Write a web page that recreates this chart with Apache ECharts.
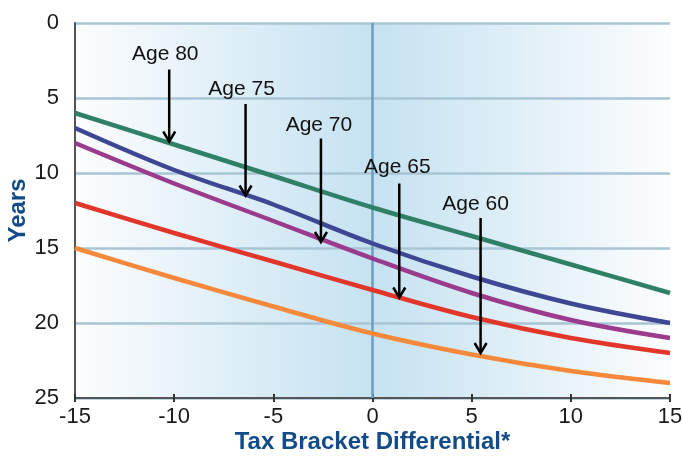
<!DOCTYPE html>
<html>
<head>
<meta charset="utf-8">
<script src="https://cdn.jsdelivr.net/npm/echarts@6/dist/echarts.min.js"></script>
<style>
  html, body { margin: 0; padding: 0; background: #ffffff; }
  #chart { width: 682px; height: 461px; }
</style>
</head>
<body>
<div id="chart"></div>
<script>
// Tax bracket differential (x) vs. years (y, inverted)
const xValues = [-15, -10, -5, 0, 5, 10, 15];
const age80 = [6.0, 8.1, 10.2, 12.3, 14.2, 16.1, 18.0];
const age75 = [7.0, 9.8, 12.1, 14.7, 16.9, 18.7, 20.0];
const age70 = [8.0, 10.7, 13.2, 15.7, 18.0, 19.8, 21.0];
const age65 = [12.0, 14.0, 15.9, 17.8, 19.6, 21.0, 22.0];
const age60 = [15.0, 17.0, 18.9, 20.7, 22.1, 23.2, 24.0];

const seriesNames = ['Age 80', 'Age 75', 'Age 70', 'Age 65', 'Age 60'];
const seriesValues = [age80, age75, age70, age65, age60];
const seriesColors = ['#2f8066', '#3d4793', '#9a3b8e', '#e2362b', '#f5883a'];

// Callouts: label text, arrow x, arrow top (years), arrow tip (years), label centre y (years), label centre x
const calloutText = ['Age 80', 'Age 75', 'Age 70', 'Age 65', 'Age 60'];
const calloutX    = [-10.25, -6.4, -2.6, 1.35, 5.45];
const calloutTop  = [3.1, 5.4, 7.7, 10.7, 13.0];
const calloutTip  = [7.9, 11.5, 14.6, 18.3, 22.0];
const calloutLabelY = [2.1, 4.4, 6.8, 9.6, 12.1];
const calloutLabelX = [-10.45, -6.6, -2.7, 1.25, 5.2];

const xTicks = { min: -15, max: 15, interval: 5 };
const yTicks = { min: 0, max: 25, interval: 5 };

const FONT = '"Liberation Sans", Arial, sans-serif';

const chart = echarts.init(document.getElementById('chart'));

const lineSeries = seriesNames.map((name, i) => ({
  name: name,
  type: 'line',
  data: xValues.map((x, j) => [x, seriesValues[i][j]]),
  smooth: 0.35,
  symbol: 'none',
  lineStyle: { color: seriesColors[i], width: 4.5 },
  z: 5
}));

// Vertical reference line at zero differential
lineSeries[0].markLine = {
  silent: true,
  symbol: ['none', 'none'],
  label: { show: false },
  lineStyle: { color: '#6f9cba', width: 2.5, type: 'solid' },
  data: [{ xAxis: 0 }],
  z: 2
};

const calloutData = calloutText.map((t, i) => [calloutX[i], calloutTop[i], calloutTip[i], calloutLabelY[i], calloutLabelX[i], t]);

const calloutSeries = {
  type: 'custom',
  name: 'callouts',
  data: calloutData,
  z: 10,
  silent: true,
  encode: { x: 0, y: [1, 2] },
  renderItem: function (params, api) {
    const x = api.value(0);
    const top = api.coord([x, api.value(1)]);
    const tip = api.coord([x, api.value(2)]);
    const lab = api.coord([api.value(4), api.value(3)]);
    const text = calloutData[params.dataIndex][5];
    const hw = 6, hh = 10;
    return {
      type: 'group',
      children: [
        {
          type: 'line',
          shape: { x1: top[0], y1: top[1], x2: tip[0], y2: tip[1] - 1 },
          style: { stroke: '#000', lineWidth: 2.5 }
        },
        {
          type: 'polyline',
          shape: { points: [[tip[0] - hw, tip[1] - hh], [tip[0], tip[1]], [tip[0] + hw, tip[1] - hh]] },
          style: { stroke: '#000', lineWidth: 2.5, fill: null }
        },
        {
          type: 'text',
          x: lab[0],
          y: lab[1],
          style: {
            text: text,
            fill: '#111',
            font: '21px ' + FONT,
            align: 'center',
            verticalAlign: 'middle'
          }
        }
      ]
    };
  }
};

chart.setOption({
  animation: false,
  grid: {
    left: 75, right: 12, top: 23, bottom: 63,
    containLabel: false,
    outerBoundsMode: 'none',
    show: true,
    borderWidth: 0,
    backgroundColor: new echarts.graphic.LinearGradient(0, 0, 1, 0, [
      { offset: 0, color: '#fcfdfe' },
      { offset: 0.5, color: '#c5e2f1' },
      { offset: 1, color: '#fcfdfe' }
    ])
  },
  xAxis: [{
    type: 'value',
    min: xTicks.min, max: xTicks.max, interval: xTicks.interval,
    position: 'bottom',
    axisLine: { onZero: false, lineStyle: { color: '#555', width: 2 } },
    axisTick: { show: true, length: 4, lineStyle: { color: '#333', width: 2 } },
    axisLabel: { color: '#1a1a1a', fontSize: 22, fontFamily: FONT, margin: 8 },
    splitLine: { show: false },
    name: 'Tax Bracket Differential*',
    nameLocation: 'middle',
    nameMoveOverlap: false,
    nameGap: 32,
    nameTextStyle: { color: '#134b88', fontSize: 24, fontWeight: 'bold', fontFamily: FONT }
  }, {
    // inner half of the crossing tick marks
    type: 'value',
    min: xTicks.min, max: xTicks.max, interval: xTicks.interval,
    position: 'bottom',
    axisLine: { show: false, onZero: false },
    axisTick: { show: true, inside: true, length: 4, lineStyle: { color: '#333', width: 2 } },
    axisLabel: { show: false },
    splitLine: { show: false }
  }],
  yAxis: {
    type: 'value',
    inverse: true,
    min: yTicks.min, max: yTicks.max, interval: yTicks.interval,
    axisLine: { show: true, onZero: false, lineStyle: { color: '#555', width: 2 } },
    axisTick: { show: false },
    axisLabel: { color: '#1a1a1a', fontSize: 22, fontFamily: FONT, margin: 16 },
    splitLine: { show: true, lineStyle: { color: '#a8c5d6', width: 2.5 } },
    name: 'Years',
    nameLocation: 'middle',
    nameMoveOverlap: false,
    nameGap: 45,
    nameRotate: 90,
    nameTextStyle: { color: '#134b88', fontSize: 24, fontWeight: 'bold', fontFamily: FONT }
  },
  series: lineSeries.concat([calloutSeries])
});
</script>
</body>
</html>
